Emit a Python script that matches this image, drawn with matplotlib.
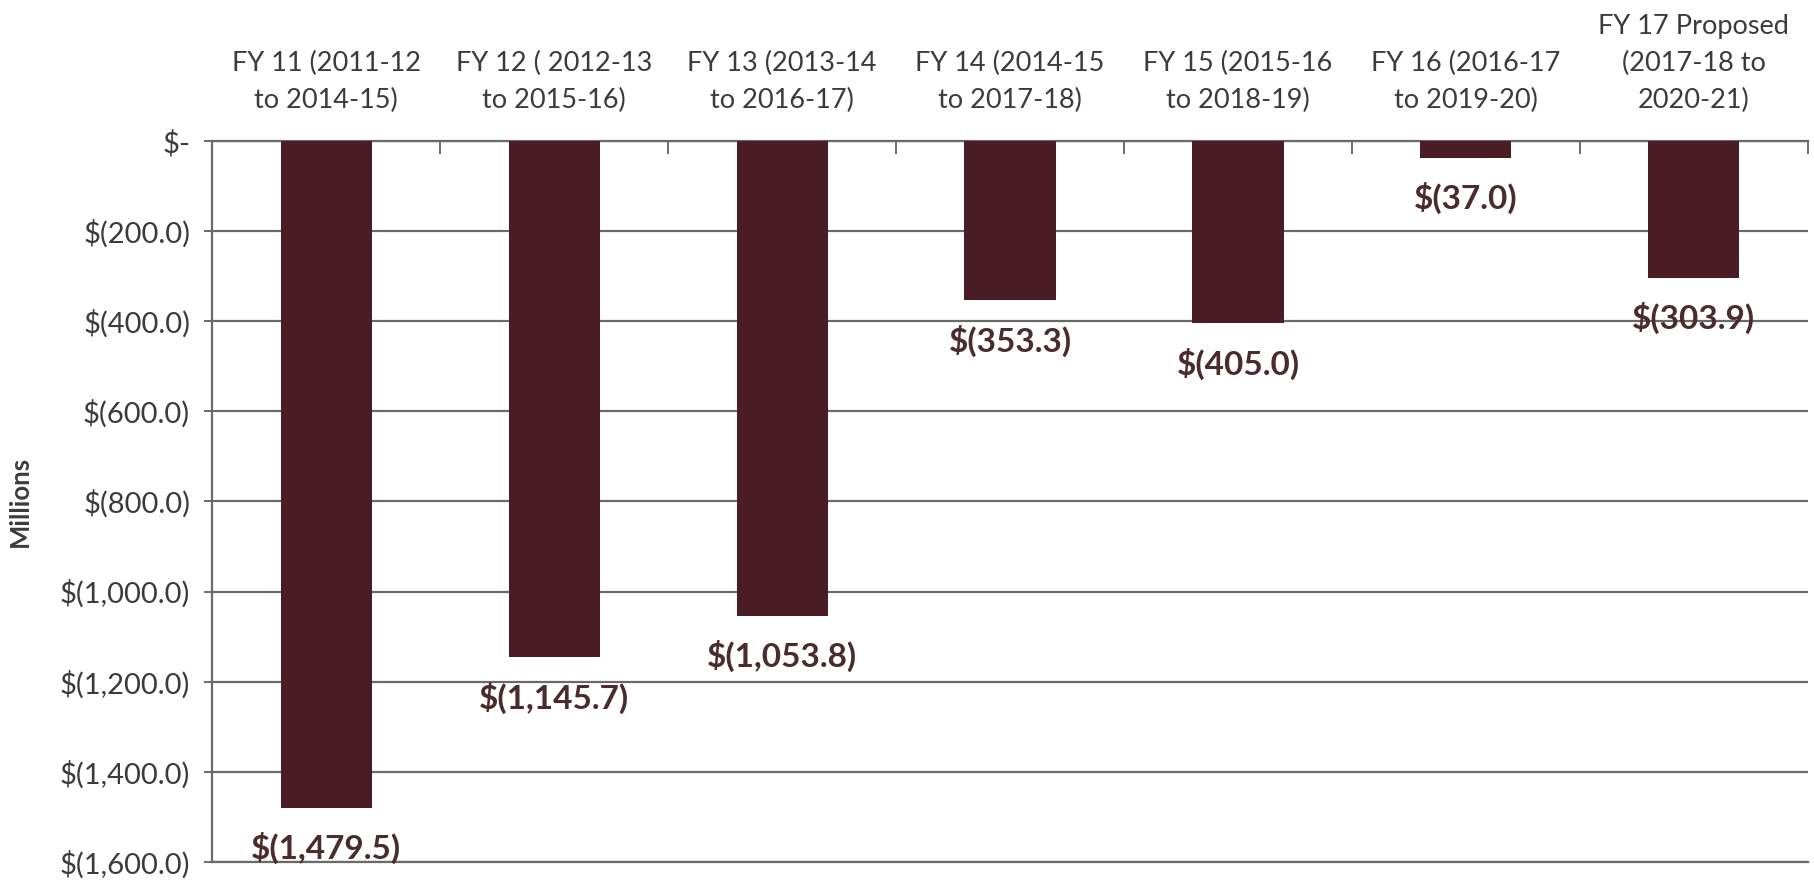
import matplotlib.pyplot as plt
from matplotlib.ticker import FuncFormatter

# four-year budget gap per fiscal year, $ millions
periods = [
    "FY 11 (2011-12\nto 2014-15)",
    "FY 12 ( 2012-13\nto 2015-16)",
    "FY 13 (2013-14\nto 2016-17)",
    "FY 14 (2014-15\nto 2017-18)",
    "FY 15 (2015-16\nto 2018-19)",
    "FY 16 (2016-17\nto 2019-20)",
    "FY 17 Proposed\n(2017-18 to\n2020-21)",
]
gap = [-1479.5, -1145.7, -1053.8, -353.3, -405.0, -37.0, -303.9]
y_ticks = [0, -200, -400, -600, -800, -1000, -1200, -1400, -1600]

bar_color = "#4a1d26"
text_color = "#3b3b3b"
grid_color = "#6a6a6a"

plt.rcParams["font.family"] = ["Lato", "DejaVu Sans"]

fig = plt.figure(figsize=(18.15, 8.81), dpi=100)
ax = fig.add_axes([0.117, 0.0216, 0.879, 0.8184])

x = list(range(len(gap)))
ax.bar(x, gap, width=0.4, color=bar_color, zorder=3)

def money(v):
    if v == 0:
        return "$-"
    return "$({:,.1f})".format(abs(v))

# value labels hang under the end of each bar
for xi, v in zip(x, gap):
    ax.annotate(money(v), (xi, v), xytext=(0, -29), textcoords="offset points",
                ha="center", va="center", fontsize=24, fontweight="bold",
                color="#4a2b2e", zorder=4)

ax.set_xlim(-0.5, len(gap) - 0.5)
ax.set_ylim(-1600, 0)
ax.set_yticks(y_ticks)
ax.yaxis.set_major_formatter(FuncFormatter(lambda v, p: money(v)))
ax.grid(axis="y", color=grid_color, linewidth=1.6, zorder=1)

# category names across the top, separator ticks on the zero line
ax.xaxis.tick_top()
ax.set_xticks(x)
ax.set_xticklabels(periods, fontsize=19.5, color=text_color, linespacing=1.6)
ax.set_xticks([i - 0.5 for i in range(len(gap) + 1)], minor=True)
ax.tick_params(axis="x", which="major", length=0, pad=20)
ax.tick_params(axis="x", which="minor", direction="in", length=9,
               width=1.4, color=grid_color, top=True, bottom=False)
ax.tick_params(axis="y", labelsize=21, labelcolor=text_color, length=6,
               width=1.4, color=grid_color, pad=10)

for side in ["left", "top", "bottom"]:
    ax.spines[side].set_color(grid_color)
    ax.spines[side].set_linewidth(1.6)
ax.spines["right"].set_visible(False)

ax.set_ylabel("Millions", fontsize=18.5, fontweight="bold", color=text_color)
ax.yaxis.set_label_coords(-0.113, 0.5)

fig.savefig("out.png", dpi=100)
